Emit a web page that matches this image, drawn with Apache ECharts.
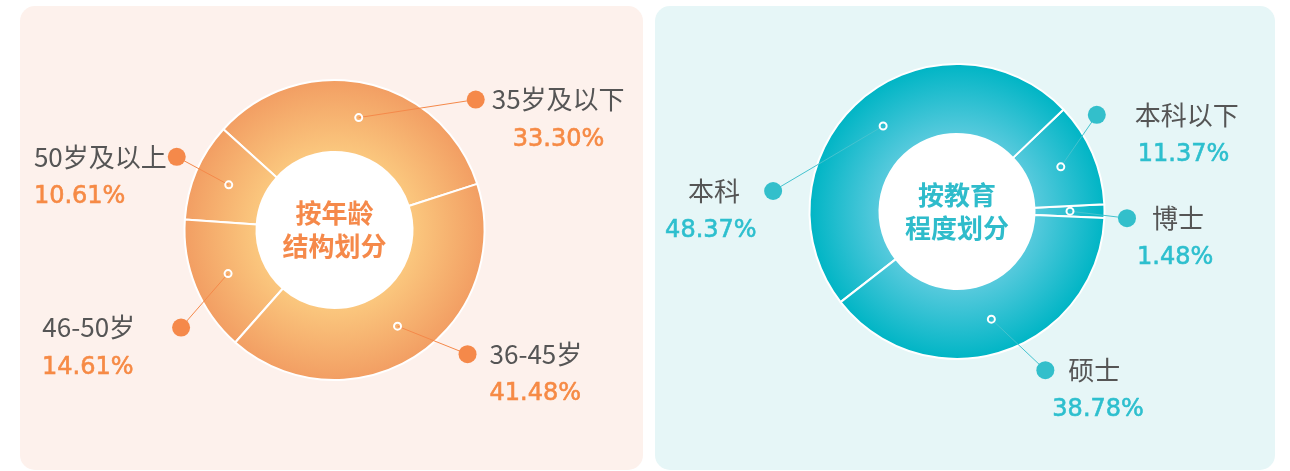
<!DOCTYPE html>
<html>
<head>
<meta charset="utf-8">
<script src="https://cdn.jsdelivr.net/npm/echarts@6/dist/echarts.min.js"></script>
<style>
  html, body { margin: 0; padding: 0; background: #fff; }
  #chart { width: 1290px; height: 471px; }
</style>
</head>
<body>
<div id="chart"></div>
<script>
// age structure (%), counter-clockwise order
const ageNames = ['35岁及以下', '50岁及以上', '46-50岁', '36-45岁']
const ageValues = [33.30, 10.61, 14.61, 41.48]

// education level (%), counter-clockwise order
const eduNames = ['博士', '本科以下', '本科', '硕士']
const eduValues = [1.48, 11.37, 48.37, 38.78]

// label placement: dot offset from the marker, gaps in px
const ageLabelPos = [
  {dx: 117, dy: -18, gap: 7, indent: 46},
  {dx: -52, dy: -28, gap: 1, valW: 148},
  {dx: -47, dy: 54, gap: 37, valW: 148},
  {dx: 70, dy: 28, gap: 13, indent: 31},
]
const eduLabelPos = [
  {dx: 57, dy: 7, gap: 16, indent: 19},
  {dx: 36, dy: -52, gap: 29, indent: 50},
  {dx: -110, dy: 65, gap: 24, valW: 117},
  {dx: 54, dy: 51, gap: 14, indent: 16},
]

const panels = [
  {
    names: ageNames, values: ageValues, pos: ageLabelPos,
    title: '按年龄\n结构划分',
    center: [334.5, 230], radius: [78, 150], markerR: 115, startAngle: 17.9,
    dot: '#f5894a', valueColor: '#f68a45', titleColor: '#f5894a', line: '#f5894a',
    stops: [[0.5, '#fbc97f'], [1, '#f29e63']],
  },
  {
    names: eduNames, values: eduValues, pos: eduLabelPos,
    title: '按教育\n程度划分',
    center: [957, 211.5], radius: [77.5, 147.5], markerR: 113, startAngle: -2.5,
    dot: '#33bfcb', valueColor: '#2dbfce', titleColor: '#2fbccb', line: '#45c3cf',
    stops: [[0.5, '#5ccbde'], [1, '#00b5c5']],
  },
]

const makeLabel = (name, value, pos, p) => {
  const val = value.toFixed(2) + '%'
  const rich = {
    dot: {width: 18, height: 18, borderRadius: 9, backgroundColor: p.dot, lineHeight: 40},
    gap: {width: pos.gap, lineHeight: 40},
    name: {fontSize: 26, color: '#555', fontFamily: 'Noto Sans CJK SC', lineHeight: 40},
    val: {
      fontSize: 24, color: p.valueColor, fontFamily: 'DejaVu Sans', lineHeight: 40,
      textBorderColor: p.valueColor, textBorderWidth: 0.6,
    },
  }
  let text
  if (pos.dx < 0) {
    rich.val.width = pos.valW
    rich.val.align = 'left'
    text = '{name|' + name + '}{gap|}{dot|}\n{val|' + val + '}'
  } else {
    rich.ind = {width: pos.indent, lineHeight: 40}
    text = '{dot|}{gap|}{name|' + name + '}\n{ind|}{val|' + val + '}'
  }
  return {formatter: text, rich: rich, padding: [40, 0, 0, 0]}
}

const series = []
const polar = []
const angleAxis = []
const radiusAxis = []

panels.forEach((p, k) => {
  const sum = p.values.reduce((a, b) => a + b, 0)
  let acc = 0
  const mids = p.values.map((v) => {
    const m = acc + v / 2
    acc += v
    return m
  })

  // ring
  series.push({
    type: 'pie',
    silent: true,
    center: p.center,
    radius: p.radius,
    startAngle: p.startAngle,
    clockwise: false,
    label: {show: false},
    labelLine: {show: false},
    itemStyle: {
      borderColor: '#fff',
      borderWidth: 2,
      color: {
        type: 'radial', x: p.center[0], y: p.center[1], r: p.radius[1], global: true,
        colorStops: p.stops.map((s) => ({offset: s[0], color: s[1]})),
      },
    },
    data: p.names.map((n, i) => ({name: n, value: p.values[i]})),
  })

  // white hole with title
  series.push({
    type: 'pie',
    silent: true,
    center: p.center,
    radius: [0, p.radius[0]],
    itemStyle: {color: '#fff'},
    label: {
      show: true,
      position: 'center',
      formatter: p.title,
      color: p.titleColor,
      fontSize: 26,
      fontWeight: 'bold',
      fontFamily: 'Noto Sans CJK SC',
      lineHeight: 33,
      padding: [9, 0, 0, 0],
    },
    labelLine: {show: false},
    data: [{name: 'title', value: 1}],
  })

  // invisible pie that carries the labels and leader lines
  series.push({
    type: 'pie',
    silent: true,
    z: 4,
    center: p.center,
    radius: [0, p.markerR],
    startAngle: p.startAngle,
    clockwise: false,
    avoidLabelOverlap: false,
    itemStyle: {color: 'rgba(0,0,0,0)', borderWidth: 0},
    label: {show: true, position: 'outside', distanceToLabelLine: 0},
    labelLine: {show: true, length: 10, length2: 10, lineStyle: {color: p.line, width: 1}},
    labelLayout: (params) => {
      const pos = p.pos[params.dataIndex]
      const start = params.labelLinePoints[0]
      const end = [start[0] + pos.dx, start[1] + pos.dy]
      const left = pos.dx < 0
      return {
        x: end[0] + (left ? 9 : -9),
        y: end[1],
        align: left ? 'right' : 'left',
        verticalAlign: 'middle',
        labelLinePoints: [start, end, end],
      }
    },
    data: p.names.map((n, i) => ({
      name: n,
      value: p.values[i],
      label: makeLabel(n, p.values[i], p.pos[i], p),
    })),
  })

  // small ring markers where the leader lines start
  polar.push({center: p.center, radius: p.radius[1]})
  angleAxis.push({
    polarIndex: k, type: 'value', min: 0, max: sum,
    startAngle: p.startAngle, clockwise: false, show: false,
  })
  radiusAxis.push({polarIndex: k, type: 'value', min: 0, max: p.radius[1], show: false})
  series.push({
    type: 'scatter',
    coordinateSystem: 'polar',
    polarIndex: k,
    silent: true,
    z: 5,
    symbol: 'circle',
    symbolSize: 7,
    itemStyle: {color: 'rgba(0,0,0,0)', borderColor: '#fff', borderWidth: 2, opacity: 1},
    data: mids.map((m) => [p.markerR, m]),
  })
})

const option = {
  animation: false,
  backgroundColor: '#fff',
  graphic: [
    {type: 'rect', silent: true, z: -10, shape: {x: 20, y: 6, width: 623, height: 464, r: 15}, style: {fill: '#fdf1ec'}},
    {type: 'rect', silent: true, z: -10, shape: {x: 655, y: 6, width: 620, height: 464, r: 15}, style: {fill: '#e6f6f7'}},
  ],
  polar: polar,
  angleAxis: angleAxis,
  radiusAxis: radiusAxis,
  series: series,
}

const chart = echarts.init(document.getElementById('chart'))
chart.setOption(option)
window.addEventListener('resize', () => chart.resize())
</script>
</body>
</html>
